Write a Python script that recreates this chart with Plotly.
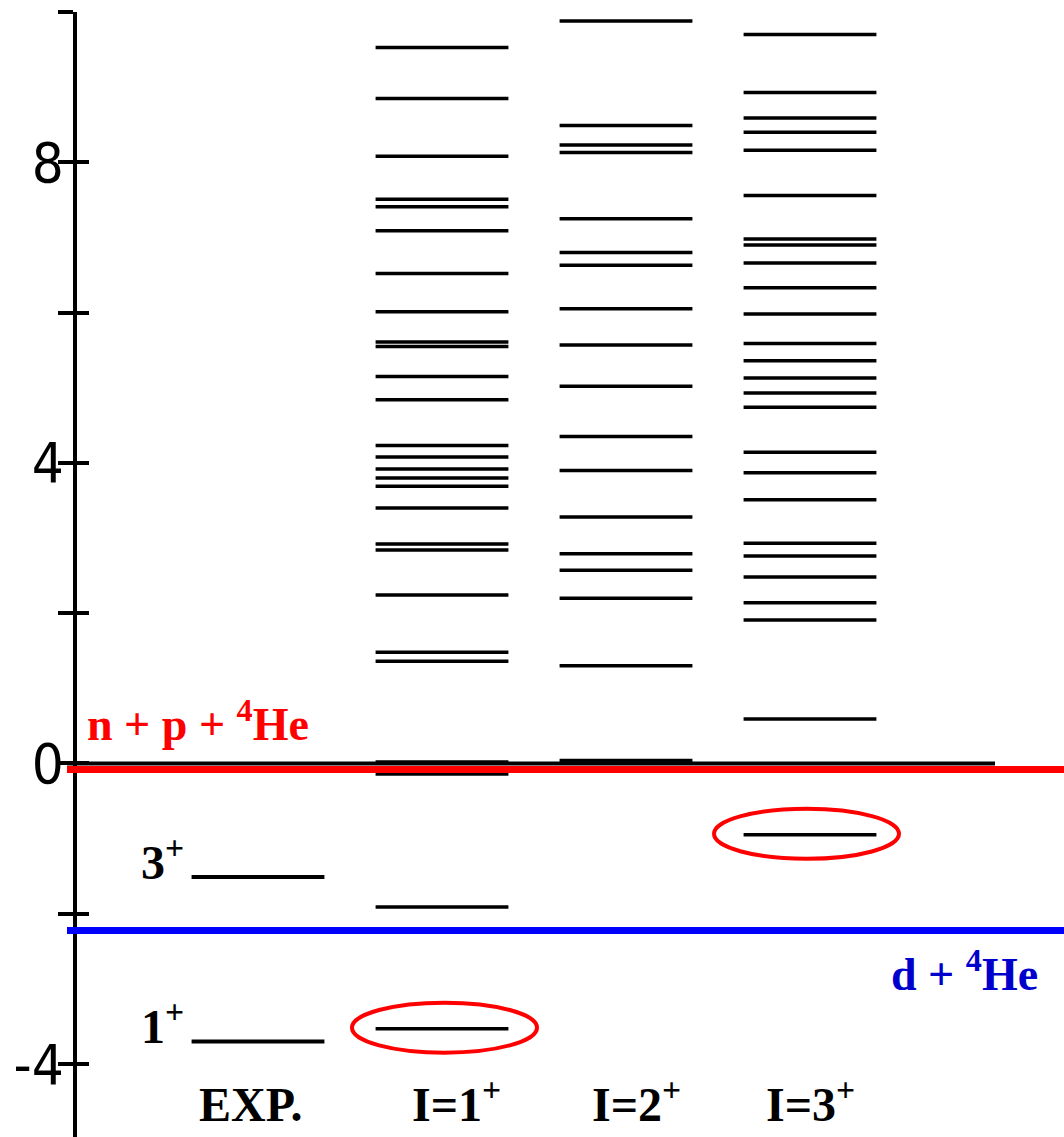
import plotly.graph_objects as go

# ---------------- data ----------------
columns = ["EXP.", "I=1<sup>+</sup>", "I=2<sup>+</sup>", "I=3<sup>+</sup>"]
exp_levels = [-1.51, -3.70]
exp_labels = ["3<sup>+</sup>", "1<sup>+</sup>"]
levels_I1 = [9.53, 8.85, 8.08, 7.51, 7.41, 7.09, 6.52, 6.01, 5.61, 5.55, 5.15, 4.84,
             4.23, 4.08, 3.92, 3.80, 3.69, 3.40, 2.92, 2.84, 2.24, 1.48, 1.36, 0.02,
             -0.14, -1.91, -3.53]
levels_I2 = [9.88, 8.49, 8.23, 8.13, 7.25, 6.80, 6.63, 6.05, 5.57, 5.02, 4.35, 3.90,
             3.28, 2.79, 2.57, 2.20, 1.30, 0.04]
levels_I3 = [9.70, 8.93, 8.59, 8.40, 8.16, 7.56, 6.98, 6.90, 6.66, 6.33, 5.98, 5.59,
             5.36, 5.13, 4.93, 4.74, 4.14, 3.87, 3.51, 2.93, 2.76, 2.48, 2.14, 1.91,
             0.59, -0.95]
threshold_npHe = 0.0
threshold_dHe = -2.224
tick_vals = [-4, -2, 0, 2, 4, 6, 8, 10]
tick_text = ["-4", "", "0", "", "4", "", "8", ""]

# ---------------- layout constants ----------------
W, H = 1064, 1137
px_per_unit_x = 184.0
x0_px = 258.0
x_range = [-x0_px / px_per_unit_x, (W - x0_px) / px_per_unit_x]
y_top = 10.0
y_bottom = -4.972
y_domain_top = 1 - 12 / H
half = 0.361  # half-width of level bars (x units)

serif = "Liberation Serif, Times New Roman, serif"
sans_narrow = "DejaVu Sans Condensed, Liberation Sans Narrow, Arial Narrow, sans-serif"

fig = go.Figure()


def add_levels(col, vals, width):
    xs, ys = [], []
    for v in vals:
        xs += [col - half, col + half, None]
        ys += [v, v, None]
    fig.add_trace(go.Scatter(x=xs, y=ys, mode="lines",
                             line=dict(color="black", width=width),
                             hoverinfo="skip", showlegend=False))


add_levels(0, exp_levels, 4)
add_levels(1, levels_I1, 3.5)
add_levels(2, levels_I2, 3.5)
add_levels(3, levels_I3, 3.5)

# invisible trace on overlay axis (inside ticks)
fig.add_trace(go.Scatter(x=[0], y=[0], yaxis="y2", mode="markers",
                         marker=dict(opacity=0), hoverinfo="skip", showlegend=False))

x_left_lines = (67 - x0_px) / px_per_unit_x
x_black_end = (995 - x0_px) / px_per_unit_x
x_right = x_range[1]

shapes = [
    # black line at threshold
    dict(type="line", xref="x", yref="y", x0=x_left_lines, x1=x_black_end,
         y0=threshold_npHe, y1=threshold_npHe, line=dict(color="black", width=4), layer="below"),
    # red line (n+p+4He), drawn just below the black one
    dict(type="line", xref="x", yref="y", ysizemode="pixel", yanchor=threshold_npHe,
         x0=x_left_lines, x1=x_right, y0=-6, y1=-6, line=dict(color="#ff0000", width=7)),
    # blue line (d+4He)
    dict(type="line", xref="x", yref="y", x0=x_left_lines, x1=x_right,
         y0=threshold_dHe, y1=threshold_dHe, line=dict(color="#0000ff", width=7)),
]

# red ellipses highlighting lowest levels of I=1+ and I=3+
for col, vals, dx in [(1, levels_I1, 2), (3, levels_I3, -4)]:
    shapes.append(dict(type="circle", xref="x", yref="y",
                       xsizemode="pixel", ysizemode="pixel",
                       xanchor=col, yanchor=min(vals),
                       x0=-92 + dx, x1=93 + dx, y0=-24, y1=26,
                       line=dict(color="#ff0000", width=4)))

annotations = []
# EXP level labels
for v, lab in zip(exp_levels, exp_labels):
    annotations.append(dict(x=-half, y=v, xref="x", yref="y", text=lab, showarrow=False,
                            xanchor="right", yanchor="bottom", xshift=-6, yshift=-14,
                            font=dict(family=serif, size=48, color="black", weight="bold")))
# column labels
col_shift = [-7, 14, 10, 0]
for i, (lab, sh) in enumerate(zip(columns, col_shift)):
    annotations.append(dict(x=i, y=0, xref="x", yref="paper", text=lab, showarrow=False,
                            xanchor="center", yanchor="bottom", xshift=sh, yshift=4,
                            font=dict(family=serif, size=48, color="black", weight="bold")))
# threshold labels
annotations.append(dict(x=85 / W, y=threshold_npHe, xref="paper", yref="y",
                        text="n\u00a0+\u00a0p\u00a0+\u00a0<sup>4</sup>He", showarrow=False,
                        xanchor="left", yanchor="bottom", yshift=11,
                        font=dict(family=serif, size=46, color="#ff0000", weight="bold")))
annotations.append(dict(x=1040 / W, y=threshold_dHe, xref="paper", yref="y",
                        text="d\u00a0+\u00a0<sup>4</sup>He", showarrow=False,
                        xanchor="right", yanchor="top", yshift=-9,
                        font=dict(family=serif, size=46, color="#0000cc", weight="bold")))

axis_common = dict(range=[y_bottom, y_top + 0.001], domain=[0, y_domain_top],
                   anchor="free", position=75 / W, showgrid=False, zeroline=False,
                   showline=True, linecolor="black", linewidth=4,
                   tickmode="array", tickvals=tick_vals, tickcolor="black", tickwidth=4)

fig.update_layout(
    width=W, height=H,
    margin=dict(l=0, r=0, t=0, b=0),
    paper_bgcolor="white", plot_bgcolor="white",
    showlegend=False,
    xaxis=dict(range=x_range, visible=False, domain=[0, 1]),
    yaxis=dict(**axis_common, ticks="outside", ticklen=15, ticktext=tick_text,
               ticklabelstandoff=-17,
               tickfont=dict(family=sans_narrow, size=56, color="black")),
    yaxis2=dict(**axis_common, overlaying="y", ticks="inside", ticklen=12,
                showticklabels=False),
    shapes=shapes,
    annotations=annotations,
)

fig.write_html("out.html")
